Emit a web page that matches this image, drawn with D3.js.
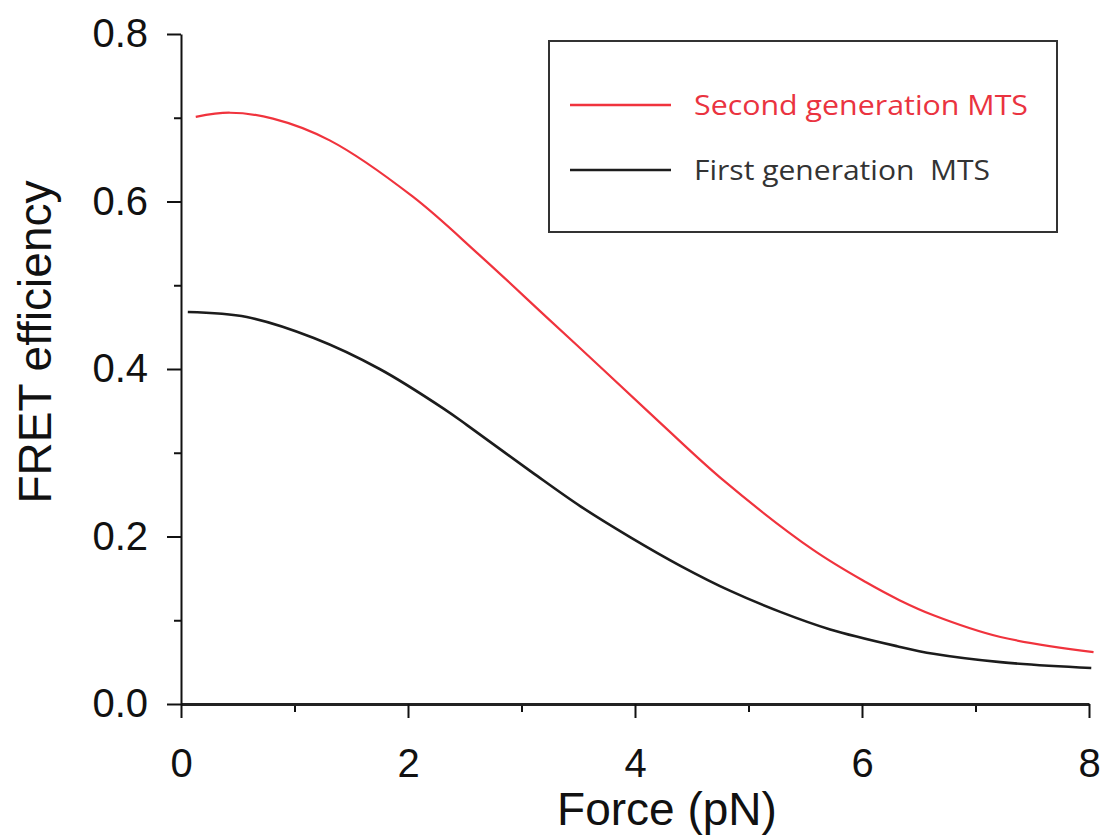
<!DOCTYPE HTML>
<html>
 <head>
     <meta charset="utf-8">
     <style>
         body { margin:0; background:#fff; }
         .axis text { font-family:"Liberation Sans", Arial, sans-serif; font-size:40px; fill:#111; }
         .axis path, .axis line { stroke:#111; stroke-width:2; }
         .title { font-family:"Liberation Sans", Arial, sans-serif; font-size:46px; fill:#111; }
         .legend text { font-family:"Open Sans", "Noto Sans", sans-serif; font-size:28px; }
     </style>
 </head>
 <body>
 <script src="https://d3js.org/d3.v7.min.js"></script>
 <script>
     // series: force (pN) and FRET efficiency
     var secondForce = [0.13, 0.43, 0.81, 1.31, 2.04, 2.63, 3.22, 3.69, 4.22, 4.78, 5.57, 6.04, 6.33, 6.63, 7.22, 8.04];
     var secondFret  = [0.701, 0.706, 0.699, 0.673, 0.606, 0.536, 0.462, 0.403, 0.336, 0.267, 0.184, 0.145, 0.124, 0.106, 0.080, 0.062];

     var firstForce = [0.06, 0.58, 1.17, 1.75, 2.31, 2.52, 3.10, 3.52, 3.96, 4.40, 4.84, 5.28, 5.72, 6.31, 6.63, 7.22, 8.02];
     var firstFret  = [0.468, 0.462, 0.437, 0.400, 0.353, 0.333, 0.276, 0.236, 0.199, 0.165, 0.135, 0.110, 0.089, 0.069, 0.060, 0.050, 0.043];

     var xMajor = [0, 2, 4, 6, 8], xMinor = [1, 3, 5, 7];
     var yMajor = [0, 0.2, 0.4, 0.6, 0.8], yMinor = [0.1, 0.3, 0.5, 0.7];
     var legendLabels = ["Second generation MTS", "First generation  MTS"];

     var width = 1107, height = 839;
     var svg = d3.select("body").append("svg")
             .attr("width", width)
             .attr("height", height);

     var xScale = d3.scaleLinear().domain([0, 8]).range([181, 1089]);
     var yScale = d3.scaleLinear().domain([0, 0.8]).range([704, 34]);

     // minor ticks first, no labels
     svg.append("g").attr("class", "axis")
             .attr("transform", "translate(0," + yScale(0) + ")")
             .call(d3.axisBottom(xScale).tickValues(xMinor).tickSize(8).tickSizeOuter(0).tickFormat(""))
             .select(".domain").remove();
     svg.append("g").attr("class", "axis")
             .attr("transform", "translate(" + xScale(0) + ",0)")
             .call(d3.axisLeft(yScale).tickValues(yMinor).tickSize(7).tickSizeOuter(0).tickFormat(""))
             .select(".domain").remove();

     var xAxis = svg.append("g").attr("class", "axis")
             .attr("transform", "translate(0," + yScale(0) + ")")
             .call(d3.axisBottom(xScale).tickValues(xMajor).tickSize(14).tickSizeOuter(0).tickPadding(0).tickFormat(d3.format("d")));
     xAxis.select(".domain").style("stroke-width", 3).style("stroke", "#222");
     xAxis.selectAll("text").attr("dy", null).attr("y", 73);

     svg.append("g").attr("class", "axis")
             .attr("transform", "translate(" + xScale(0) + ",0)")
             .call(d3.axisLeft(yScale).tickValues(yMajor).tickSize(14).tickSizeOuter(0).tickPadding(19).tickFormat(d3.format(".1f")));

     svg.append("text").attr("class", "title")
             .attr("text-anchor", "middle")
             .attr("transform", "translate(51,342) rotate(-90)")
             .text("FRET efficiency");
     svg.append("text").attr("class", "title")
             .attr("text-anchor", "middle")
             .attr("x", 667).attr("y", 825)
             .text("Force (pN)");

     var line = d3.line()
             .x(function(d) { return xScale(d[0]); })
             .y(function(d) { return yScale(d[1]); })
             .curve(d3.curveCatmullRom.alpha(0.5));

     var series = [
         { pts: d3.zip(secondForce, secondFret), stroke:"#f0333d", w:2.2, text:"#ea3340" },
         { pts: d3.zip(firstForce, firstFret), stroke:"#1c1c1c", w:2.6, text:"#333" }
     ];

     svg.selectAll("path.curve")
             .data(series)
             .enter()
             .append("path")
             .attr("class", "curve")
             .attr("d", function(d) { return line(d.pts); })
             .attr("fill", "none")
             .attr("stroke", function(d) { return d.stroke; })
             .attr("stroke-width", function(d) { return d.w; });

     // legend box
     var legend = svg.append("g").attr("class", "legend");
     legend.append("rect")
             .attr("x", 549).attr("y", 41)
             .attr("width", 508).attr("height", 191)
             .attr("fill", "none")
             .attr("stroke", "#333")
             .attr("stroke-width", 2);

     var rowY = [105, 170], textLen = [334, 296];
     series.forEach(function(s, i) {
         legend.append("line")
                 .attr("x1", 570).attr("x2", 671)
                 .attr("y1", rowY[i]).attr("y2", rowY[i])
                 .attr("stroke", s.stroke)
                 .attr("stroke-width", 2.5);
         legend.append("text")
                 .attr("x", 694).attr("y", rowY[i] + 10)
                 .attr("fill", s.text)
                 .attr("textLength", textLen[i])
                 .attr("lengthAdjust", "spacingAndGlyphs")
                 .style("white-space", "pre")
                 .text(legendLabels[i]);
     });
 </script>
 </body>
 </html>
